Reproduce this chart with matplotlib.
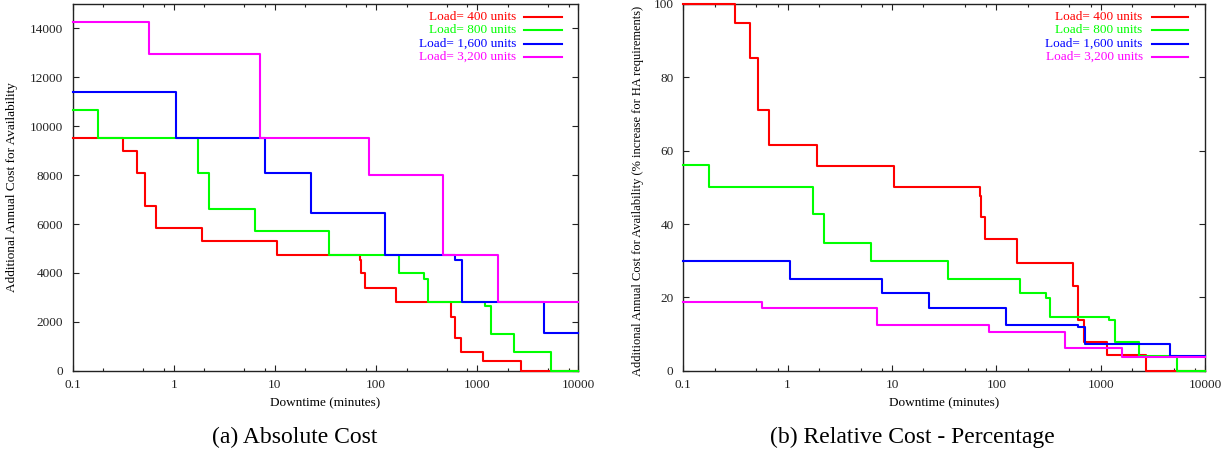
import matplotlib
matplotlib.use("Agg")
import matplotlib.pyplot as plt
from matplotlib.ticker import FixedLocator, FixedFormatter, NullFormatter

plt.rcParams['font.family'] = ['Liberation Serif', 'DejaVu Serif']

# ---------------- data ----------------
series_labels = ["Load= 400 units", "Load= 800 units", "Load= 1,600 units", "Load= 3,200 units"]
series_colors = ["#ff0000", "#00ff00", "#0000ff", "#ff00ff"]

# downtime breakpoints (minutes), step 'post'
x_400 = [0.1, 0.316, 0.433, 0.519, 0.667, 1.91, 10.4, 69.5, 71, 77.8, 157, 548, 605, 689, 1151, 2717, 10000]
x_800 = [0.1, 0.177, 1.75, 2.23, 6.36, 34.3, 169, 298, 324, 1197, 1362, 2317, 5385, 10000]
x_1600 = [0.1, 1.05, 7.98, 22.8, 122.7, 604, 705, 4624, 10000]
x_3200 = [0.1, 0.565, 7.13, 85.9, 457, 1600, 10000]

# (a) absolute additional annual cost
abs_400 = [9500, 9000, 8100, 6750, 5850, 5300, 4750, 4530, 3980, 3400, 2800, 2200, 1325, 750, 400, 0, 0]
abs_800 = [10650, 9500, 8100, 6600, 5700, 4750, 4000, 3750, 2800, 2650, 1500, 750, 0, 0]
abs_1600 = [11400, 9500, 8100, 6450, 4750, 4530, 2800, 1550, 1550]
abs_3200 = [14250, 12950, 9500, 8000, 4750, 2800, 2800]

# (b) relative cost in percent
pct_400 = [100, 94.7, 85.3, 71.1, 61.6, 55.8, 50, 47.7, 41.9, 35.8, 29.5, 23.2, 13.9, 7.9, 4.2, 0, 0]
pct_800 = [56, 50, 42.6, 34.7, 30, 25, 21.1, 19.7, 14.7, 13.9, 7.9, 3.9, 0, 0]
pct_1600 = [30, 25, 21.3, 17, 12.5, 11.9, 7.4, 4.1, 4.1]
pct_3200 = [18.75, 17, 12.5, 10.5, 6.25, 3.7, 3.7]

x_ticks = [0.1, 1, 10, 100, 1000, 10000]
x_tick_labels = ["0.1", "1", "10", "100", "1000", "10000"]
y_ticks_abs = [0, 2000, 4000, 6000, 8000, 10000, 12000, 14000]
y_ticks_pct = [0, 20, 40, 60, 80, 100]

xs = [x_400, x_800, x_1600, x_3200]
abs_vals = [abs_400, abs_800, abs_1600, abs_3200]
pct_vals = [pct_400, pct_800, pct_1600, pct_3200]

# ---------------- figure ----------------
W, H = 1231, 465
fig = plt.figure(figsize=(W / 100, H / 100), dpi=100)

def axes_px(l, r, t, b):
    return [l / W, 1 - b / H, (r - l) / W, (b - t) / H]

ax1 = fig.add_axes(axes_px(72.7, 578.3, 4, 370.7))
ax2 = fig.add_axes(axes_px(683.3, 1205, 4, 370.7))

minor = []
for d in [0.1, 1, 10, 100, 1000]:
    for m in [2, 5, 8]:
        minor.append(d * m)

def style(ax, ymax, yticks, ylabel, ylabel_x, ylabel_y, ylabel_size):
    ax.set_xscale('log')
    ax.set_xlim(0.1, 10000)
    ax.set_ylim(0, ymax)
    ax.xaxis.set_major_locator(FixedLocator(x_ticks))
    ax.xaxis.set_major_formatter(FixedFormatter(x_tick_labels))
    ax.xaxis.set_minor_locator(FixedLocator(minor))
    ax.xaxis.set_minor_formatter(NullFormatter())
    ax.set_yticks(yticks)
    ax.tick_params(which='both', direction='in', top=True, right=True,
                   labelsize=9.5, width=0.8, colors='#222222')
    ax.tick_params(which='major', length=4.5)
    ax.tick_params(which='minor', length=2.5)
    ax.tick_params(axis='x', pad=6)
    ax.tick_params(axis='y', pad=7)
    for s in ax.spines.values():
        s.set_linewidth(1.0)
        s.set_color('#222222')
    ax.set_xlabel("Downtime (minutes)", fontsize=9.5)
    ax.xaxis.set_label_coords(0.5, -0.072)
    ax.set_ylabel(ylabel, fontsize=ylabel_size)
    ax.yaxis.set_label_coords(ylabel_x, ylabel_y)

def legend(ax, text_x, line_x0, line_x1):
    rows = [0.9654, 0.9291, 0.8917, 0.8563]
    for lab, col, yy in zip(series_labels, series_colors, rows):
        ax.text(text_x, yy, lab, color=col, fontsize=9.5, ha='right', va='center',
                transform=ax.transAxes)
        ax.plot([line_x0, line_x1], [yy, yy], color=col, lw=1.5, transform=ax.transAxes,
                clip_on=False)

for x, y, c in zip(xs, abs_vals, series_colors):
    ax1.step(x, y, where='post', color=c, lw=1.5, clip_on=False, zorder=3)
for x, y, c in zip(xs, pct_vals, series_colors):
    ax2.step(x, y, where='post', color=c, lw=1.5, clip_on=False, zorder=3)

style(ax1, 15000, y_ticks_abs, "Additional Annual Cost for Availability", -0.108, 0.5, 9.5)
style(ax2, 100, y_ticks_pct,
      "Additional Annual Cost for Availability (% increase for HA requirements)",
      -0.075, 0.49, 9.0)

legend(ax1, 0.877, 0.892, 0.967)
legend(ax2, 0.8806, 0.898, 0.968)

fig.text(295 / W, 1 - 437 / H, "(a) Absolute Cost", fontsize=17, ha='center', va='center')
fig.text(912 / W, 1 - 437 / H, "(b) Relative Cost - Percentage", fontsize=17, ha='center', va='center')

fig.savefig("out.png", dpi=100)
